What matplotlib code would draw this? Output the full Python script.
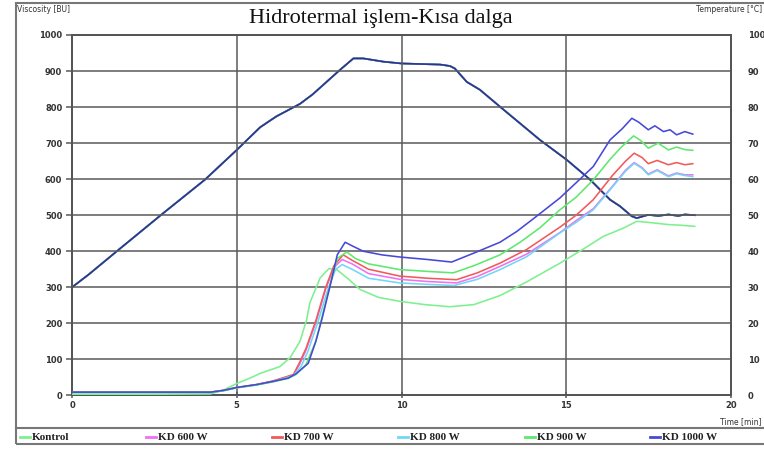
import matplotlib
matplotlib.use("Agg")
import matplotlib.pyplot as plt
from matplotlib.lines import Line2D
from matplotlib.patches import Rectangle

W, H = 764, 451

series_names = ["Kontrol", "KD 600 W", "KD 700 W", "KD 800 W", "KD 900 W", "KD 1000 W"]
series_colors = ["#7df08f", "#f070f0", "#f05a5a", "#6fd8f6", "#5ee86e", "#4848d8"]

# viscosity profiles (BU) against time (min)
kontrol_t = [0, 2, 4.2, 4.6, 5.0, 5.4, 5.71, 6.31, 6.62, 6.92, 7.12, 7.22, 7.53, 7.8, 8.05,
             8.4, 8.74, 9.3, 9.95, 10.7, 11.47, 12.2, 12.99, 13.8, 14.81, 15.5, 16.12, 16.73,
             17.14, 17.5, 18.1, 18.5, 18.9]
kontrol_v = [3, 3, 4, 15, 33, 48, 61, 80, 105, 150, 210, 257, 326, 352, 348,
             322, 294, 272, 261, 252, 246, 252, 277, 315, 367, 405, 441, 464,
             483, 480, 474, 472, 469]

kd600_t = [0, 2, 4.2, 4.6, 5.0, 5.6, 6.11, 6.72, 6.9, 7.1, 7.41, 7.7, 7.95, 8.2, 8.5, 9.0,
           9.95, 10.8, 11.67, 12.3, 12.99, 13.8, 14.81, 15.3, 15.82, 16.4, 16.8, 17.06, 17.3,
           17.49, 17.76, 18.1, 18.35, 18.6, 18.84]
kd600_v = [9, 9, 9, 14, 22, 30, 40, 57, 85, 125, 205, 295, 355, 377, 365, 338,
           322, 316, 312, 330, 358, 392, 452, 485, 518, 580, 625, 646, 632,
           614, 626, 609, 617, 612, 612]

kd700_t = [0, 2, 4.2, 4.6, 5.0, 5.6, 6.11, 6.72, 6.9, 7.1, 7.41, 7.7, 7.95, 8.23, 8.5, 9.0,
           9.95, 10.8, 11.67, 12.3, 12.99, 13.8, 14.81, 15.3, 15.82, 16.4, 16.8, 17.06, 17.3,
           17.49, 17.76, 18.1, 18.35, 18.6, 18.84]
kd700_v = [9, 9, 9, 14, 22, 30, 40, 58, 90, 130, 210, 300, 360, 390, 375, 350,
           331, 325, 321, 340, 367, 405, 467, 500, 543, 610, 650, 672, 660,
           643, 652, 640, 646, 640, 643]

kd800_t = [0, 2, 4.2, 4.6, 5.0, 5.6, 6.11, 6.72, 6.95, 7.15, 7.45, 7.75, 8.0, 8.2, 8.5, 9.0,
           9.95, 10.8, 11.6, 12.3, 12.99, 13.8, 14.81, 15.3, 15.82, 16.4, 16.8, 17.06, 17.3,
           17.49, 17.76, 18.1, 18.35, 18.6, 18.84]
kd800_v = [8, 8, 8, 13, 21, 29, 38, 55, 80, 120, 200, 290, 350, 363, 350, 325,
           312, 308, 305, 322, 349, 385, 451, 480, 515, 578, 622, 644, 630,
           612, 624, 607, 615, 610, 607]

kd900_t = [0, 2, 4.2, 4.6, 5.0, 5.6, 6.11, 6.56, 6.8, 7.1, 7.4, 7.58, 7.85, 8.05, 8.34, 8.6,
           9.0, 9.95, 10.8, 11.57, 12.2, 12.99, 13.6, 14.2, 14.81, 15.3, 15.82, 16.33, 16.63,
           17.04, 17.25, 17.49, 17.79, 18.1, 18.35, 18.6, 18.84]
kd900_v = [8, 8, 8, 13, 21, 29, 38, 47, 58, 85, 150, 215, 315, 380, 398, 380,
           365, 349, 344, 340, 360, 390, 425, 465, 515, 550, 598, 655, 685,
           720, 708, 686, 700, 681, 689, 682, 680]

kd1000_t = [0, 2, 4.2, 4.6, 5.0, 5.6, 6.11, 6.56, 6.8, 7.17, 7.4, 7.58, 7.85, 8.05, 8.29, 8.5,
            8.84, 9.4, 9.95, 10.8, 11.52, 12.2, 12.99, 13.5, 14.0, 14.81, 15.3, 15.82, 16.33,
            16.7, 16.99, 17.2, 17.49, 17.69, 17.95, 18.15, 18.35, 18.6, 18.84]
kd1000_v = [9, 9, 9, 14, 22, 30, 39, 48, 60, 89, 150, 210, 310, 390, 425, 415,
            400, 390, 384, 377, 370, 395, 425, 455, 490, 548, 590, 635, 709,
            740, 769, 758, 737, 748, 732, 737, 723, 732, 725]

# temperature profile (°C), same for every sample
temp_t = [0, 0.5, 1.36, 2.72, 4.04, 5.0, 5.71, 6.2, 6.92, 7.3, 7.63, 8.13, 8.54, 8.84, 9.45,
          10.0, 11.17, 11.47, 11.62, 11.98, 12.38, 12.99, 14.2, 15.01, 15.72, 16.33, 16.63,
          16.99, 17.14, 17.49, 17.8, 18.1, 18.4, 18.6, 18.9]
temp_c = [30.0, 33.5, 40.0, 50.2, 59.9, 68.1, 74.4, 77.4, 80.9, 83.5, 86.2, 90.3, 93.5, 93.5, 92.6,
          92.1, 91.8, 91.4, 90.7, 87.0, 84.8, 80.1, 70.9, 65.4, 59.9, 54.3, 52.5,
          49.7, 49.2, 50.1, 49.8, 50.2, 49.8, 50.2, 50.0]

visc_t = [kontrol_t, kd600_t, kd700_t, kd800_t, kd900_t, kd1000_t]
visc_v = [kontrol_v, kd600_v, kd700_v, kd800_v, kd900_v, kd1000_v]

x_ticks = [0, 5, 10, 15, 20]
y_ticks = list(range(0, 1001, 100))
temp_ticks = list(range(0, 101, 10))


def fx(px):
    return px / W


def fy(py):
    return 1 - py / H


fig = plt.figure(figsize=(W / 100, H / 100), dpi=100)
fig.patch.set_facecolor("white")

ax = fig.add_axes([fx(72), fy(395.4), fx(731) - fx(72), fy(35) - fy(395.4)])
ax2 = ax.twinx()

grid_col = "#5a5a5a"
for ytick in y_ticks[1:-1]:
    ax.axhline(ytick, color=grid_col, lw=1.1, zorder=1)
for xtick in x_ticks[1:-1]:
    ax.axvline(xtick, color=grid_col, lw=1.1, zorder=1)

for t, v, c in zip(visc_t, visc_v, series_colors):
    ax.plot(t, v, color=c, lw=1.15, zorder=3)

for c in series_colors:
    ax2.plot(temp_t, temp_c, color=c, lw=1.2, zorder=3)
ax2.plot(temp_t, temp_c, color="#23306e", lw=0.9, alpha=0.8, zorder=4)

ax.set_xlim(0, 20)
ax.set_ylim(0, 1000)
ax2.set_ylim(0, 100)
ax.set_xticks(x_ticks)
ax.set_yticks(y_ticks)
ax2.set_yticks(temp_ticks)

tick_font = dict(fontsize=6, fontweight="bold", color="#333333")
ax.set_xticklabels([str(x) for x in x_ticks], **tick_font)
ax.set_yticklabels([str(y) for y in y_ticks], **tick_font)
ax2.set_yticklabels([str(y) for y in temp_ticks], **tick_font)
ax.tick_params(axis="x", length=4, width=1.1, color=grid_col, pad=2, direction="inout")
ax.tick_params(axis="y", length=4, width=1.1, color=grid_col, pad=3, direction="out")
ax2.tick_params(axis="y", length=0, pad=12)

for a in (ax, ax2):
    for s in a.spines.values():
        s.set_color("#555555")
        s.set_linewidth(1.4)
ax.set_zorder(ax2.get_zorder() + 1)
ax.patch.set_visible(False)

# outer frame and legend strip
fig.add_artist(Rectangle((fx(16), fy(444)), fx(800) - fx(16), fy(3) - fy(444),
                         transform=fig.transFigure, fill=False, ec="#777777", lw=1.5))
fig.add_artist(Line2D([fx(16), fx(764)], [fy(428), fy(428)],
                      transform=fig.transFigure, color="#777777", lw=1.5))

fig.text(fx(17), fy(9), "Viscosity [BU]", fontsize=5.5, color="#333333", va="center")
fig.text(fx(762), fy(9), "Temperature [°C]", fontsize=5.5, color="#333333",
         ha="right", va="center")
fig.text(fx(762), fy(422), "Time [min]", fontsize=5.5, color="#333333",
         ha="right", va="center")

fig.text(fx(381), fy(18), "Hidrotermal işlem-Kısa dalga", fontsize=16,
         family="Liberation Serif", ha="center", va="center", color="#111111")

legend_x = [20, 146, 272, 398, 525, 650]
for lx, name, c in zip(legend_x, series_names, series_colors):
    fig.add_artist(Line2D([fx(lx), fx(lx + 10)], [fy(437), fy(437)],
                          transform=fig.transFigure, color=c, lw=2))
    fig.text(fx(lx + 12), fy(437), name, fontsize=8, fontweight="bold",
             family="Liberation Serif", va="center", color="#222222")

fig.savefig("out.png", dpi=100)
